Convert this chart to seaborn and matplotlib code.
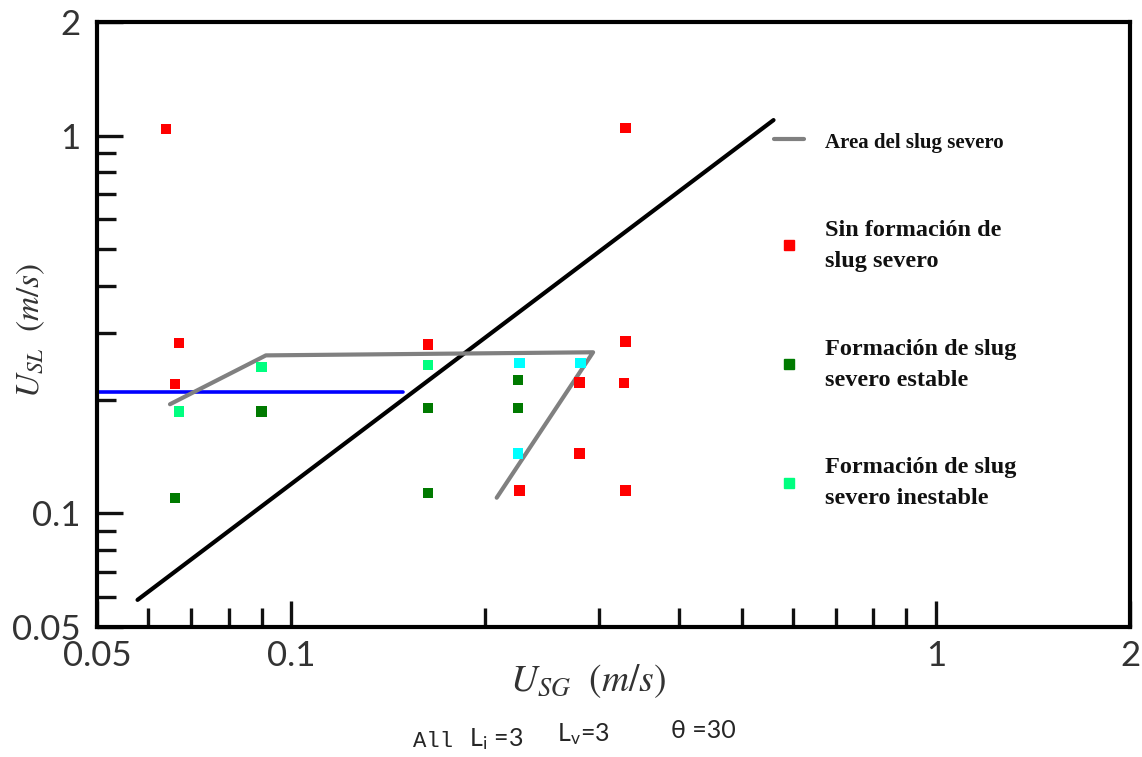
import pandas as pd
import seaborn as sns
import matplotlib.pyplot as plt
from matplotlib.lines import Line2D
from matplotlib.ticker import FixedLocator, NullFormatter

# ---- datos (U_SG, U_SL en m/s) ----
sin_slug_x = [0.064, 0.067, 0.066, 0.163, 0.33, 0.33, 0.28, 0.328, 0.28, 0.226, 0.33]
sin_slug_y = [1.04, 0.282, 0.22, 0.28, 1.05, 0.285, 0.222, 0.221, 0.144, 0.115, 0.115]

estable_x = [0.066, 0.09, 0.163, 0.163, 0.225, 0.225]
estable_y = [0.11, 0.186, 0.19, 0.113, 0.19, 0.225]

inestable_x = [0.067, 0.09, 0.163]
inestable_y = [0.186, 0.244, 0.247]
inestable_cian_x = [0.226, 0.281, 0.225]
inestable_cian_y = [0.25, 0.25, 0.144]

# lineas de transicion
transicion_x = [0.0578, 0.56]
transicion_y = [0.059, 1.10]
azul_x = [0.05, 0.149]
azul_y = [0.21, 0.21]
area_x = [0.0649, 0.0914, 0.294, 0.2084]
area_y = [0.1945, 0.262, 0.267, 0.110]

ticks = [0.05, 0.1, 1, 2]
tick_labels = ['0.05', '0.1', '1', '2']
minor = [0.06, 0.07, 0.08, 0.09, 0.2, 0.3, 0.4, 0.5, 0.6, 0.7, 0.8, 0.9]

colores = {'sin': '#ff0000', 'estable': '#007a00',
           'inestable': '#00ff80', 'cian': '#00ffff'}

df = pd.concat([
    pd.DataFrame({'usg': sin_slug_x, 'usl': sin_slug_y, 'estado': 'sin'}),
    pd.DataFrame({'usg': estable_x, 'usl': estable_y, 'estado': 'estable'}),
    pd.DataFrame({'usg': inestable_x, 'usl': inestable_y, 'estado': 'inestable'}),
    pd.DataFrame({'usg': inestable_cian_x, 'usl': inestable_cian_y, 'estado': 'cian'}),
], ignore_index=True)

sns.set_style('white')
plt.rcParams['font.family'] = ['Lato', 'DejaVu Sans']
plt.rcParams['mathtext.fontset'] = 'stix'

fig = plt.figure(figsize=(11.42, 7.57), dpi=100)
ax = fig.add_axes([0.0849, 0.1717, 0.9046, 0.7992])
ax.set_xscale('log')
ax.set_yscale('log')

sns.lineplot(x=azul_x, y=azul_y, color='#0000ff', linewidth=2.6, sort=False,
             estimator=None, ax=ax)
sns.lineplot(x=transicion_x, y=transicion_y, color='black', linewidth=3, sort=False,
             estimator=None, ax=ax)
sns.lineplot(x=area_x, y=area_y, color='#808080', linewidth=3, sort=False,
             estimator=None, ax=ax)
sns.scatterplot(data=df, x='usg', y='usl', hue='estado', palette=colores,
                marker='s', s=55, linewidth=0, legend=False, ax=ax, zorder=3)

ax.set_xlim(0.05, 2)
ax.set_ylim(0.05, 2)
for axis in (ax.xaxis, ax.yaxis):
    axis.set_major_locator(FixedLocator(ticks))
    axis.set_minor_locator(FixedLocator(minor))
    axis.set_minor_formatter(NullFormatter())
ax.set_xticklabels(tick_labels)
ax.set_yticklabels(tick_labels)
ax.tick_params(which='both', direction='in', width=2.4, color='#111111',
               bottom=True, left=True, top=False, right=False, labelsize=25)
ax.tick_params(which='major', length=19)
ax.tick_params(which='minor', length=14)
ax.tick_params(axis='y', pad=12)
ax.tick_params(axis='x', pad=9)
for lab in ax.get_xticklabels() + ax.get_yticklabels():
    lab.set_fontweight('normal')
    lab.set_color('#333333')
for sp in ax.spines.values():
    sp.set_linewidth(3)
    sp.set_color('black')

ax.set_xlabel(r'$U_{SG}\ \ (m/s)$', fontsize=27, color='#333333')
ax.set_ylabel(r'$U_{SL}\ \ (m/s)$', fontsize=24, color='#333333')
ax.xaxis.set_label_coords(0.475, -0.058)
ax.yaxis.set_label_coords(-0.048, 0.49)

# leyenda
handles = [
    Line2D([], [], color='#808080', linewidth=3),
    Line2D([], [], color=colores['sin'], marker='s', linestyle='', markersize=6.5),
    Line2D([], [], color=colores['estable'], marker='s', linestyle='', markersize=6.5),
    Line2D([], [], color=colores['inestable'], marker='s', linestyle='', markersize=6.5),
]
labels = ['Area del slug severo',
          'Sin formación de\nslug severo',
          'Formación de slug\nsevero estable',
          'Formación de slug\nsevero inestable']
leg = ax.legend(handles, labels, loc='upper left', bbox_to_anchor=(0.644, 0.84),
                frameon=False, borderpad=0, handlelength=1.2, handletextpad=0.9,
                labelspacing=2.75, prop={'family': 'Liberation Serif',
                                         'weight': 'bold', 'size': 17.5})
for t in leg.get_texts():
    t.set_linespacing(1.62)
    t.set_color('#111111')
leg.get_texts()[0].set_fontsize(15)

fig.text(0.362, 0.013, 'All', fontsize=16, family='Liberation Mono')
fig.text(0.411, 0.013, r'L$_\mathregular{i}$ =3', fontsize=18)
fig.text(0.488, 0.02, r'L$_\mathregular{v}$=3', fontsize=18)
fig.text(0.588, 0.025, 'θ =30', fontsize=18)

fig.savefig('out.png', dpi=100)
